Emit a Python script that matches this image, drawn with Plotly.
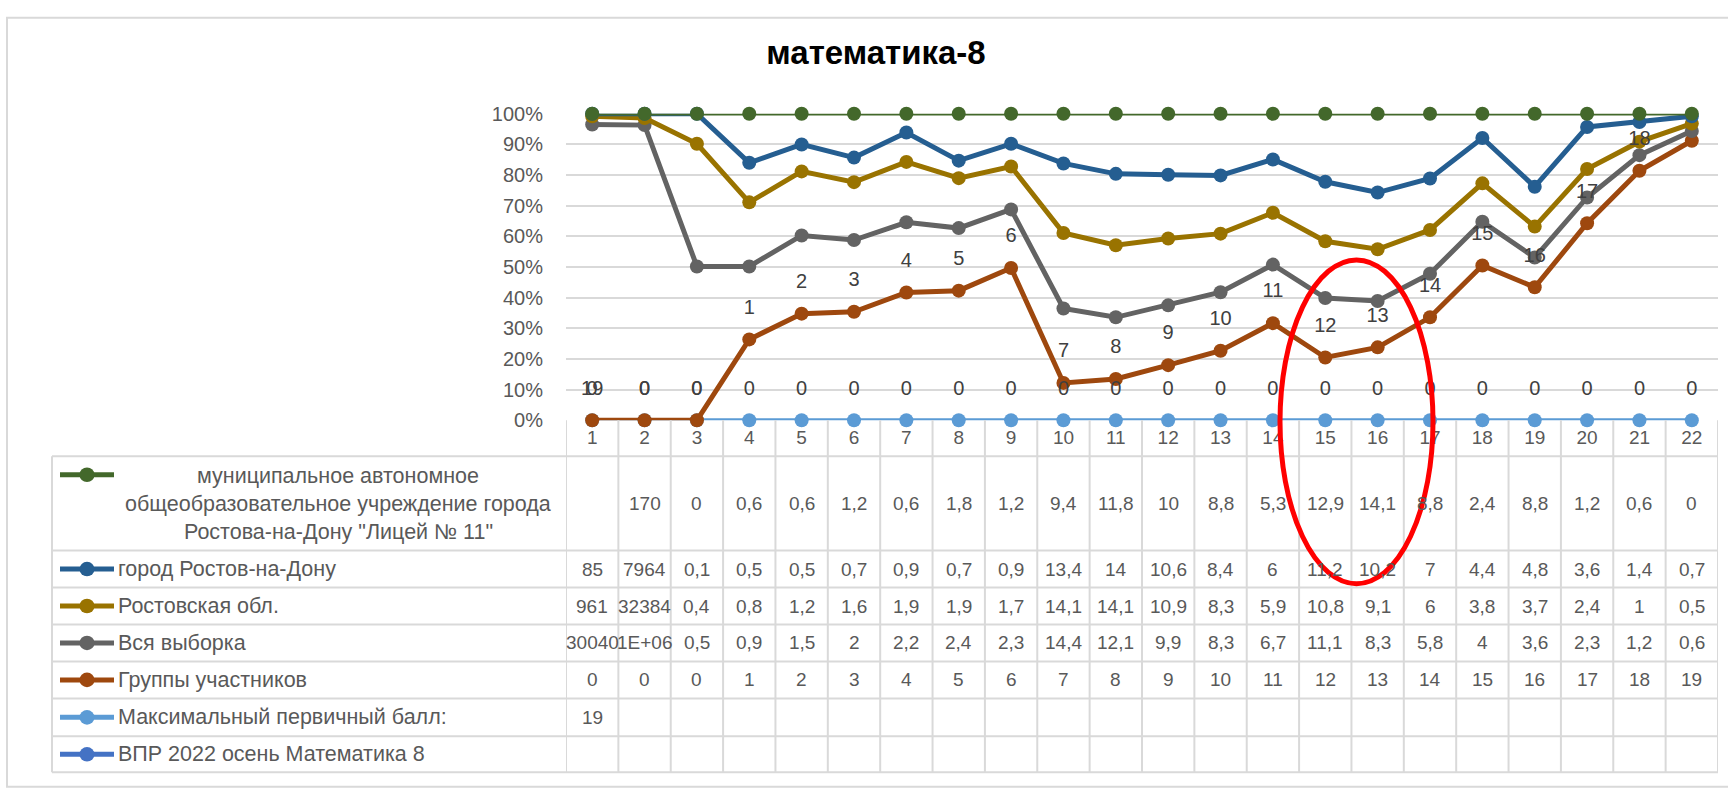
#!/bin/env python
"""
математика-8: line chart of result shares with an Excel-like data table below
"""
import plotly.graph_objects as go

WIDTH = 1728
HEIGHT = 793

# ---- data -------------------------------------------------------------
categories = list(range(1, 23))

school_pct = [100, 100, 100, 100, 100, 100, 100, 100, 100, 100, 100,
              100, 100, 100, 100, 100, 100, 100, 100, 100, 100, 100]
city_pct = [100, 100, 100, 84.0, 90.0, 85.7, 93.9, 84.7, 90.2, 83.8, 80.4,
            80.1, 79.9, 85.1, 77.8, 74.3, 78.9, 92.1, 76.2, 95.7, 97.3, 99.2]
region_pct = [99.2, 98.6, 90.2, 71.1, 81.2, 77.7, 84.3, 79.0, 82.8, 61.1, 57.1,
              59.3, 60.9, 67.7, 58.4, 55.8, 62.1, 77.3, 63.2, 82.0, 90.9, 96.8]
sample_pct = [96.5, 96.3, 50.2, 50.2, 60.3, 58.8, 64.6, 62.7, 68.8, 36.5, 33.6,
              37.5, 41.8, 50.8, 39.9, 38.9, 47.8, 64.8, 53.1, 72.7, 86.5, 94.4]
groups_pct = [0, 0, 0, 26.4, 34.8, 35.4, 41.7, 42.3, 49.7, 12.2, 13.5,
              18.0, 22.7, 31.7, 20.5, 23.8, 33.6, 50.5, 43.4, 64.3, 81.4, 91.2]
max_score_pct = [0, 0, 0, 0, 0, 0, 0, 0, 0, 0, 0,
                 0, 0, 0, 0, 0, 0, 0, 0, 0, 0, 0]

groups_labels = ["0", "0", "0", "1", "2", "3", "4", "5", "6", "7", "8",
                 "9", "10", "11", "12", "13", "14", "15", "16", "17", "18", "19"]
max_score_labels = ["19", "0", "0", "0", "0", "0", "0", "0", "0", "0", "0",
                    "0", "0", "0", "0", "0", "0", "0", "0", "0", "0", "0"]

y_ticks = [0, 10, 20, 30, 40, 50, 60, 70, 80, 90, 100]
y_tick_labels = ["0%", "10%", "20%", "30%", "40%", "50%", "60%", "70%", "80%", "90%", "100%"]

# data table rows (as printed in the table)
school_row = ["", "170", "0", "0,6", "0,6", "1,2", "0,6", "1,8", "1,2", "9,4", "11,8",
              "10", "8,8", "5,3", "12,9", "14,1", "8,8", "2,4", "8,8", "1,2", "0,6", "0"]
city_row = ["85", "7964", "0,1", "0,5", "0,5", "0,7", "0,9", "0,7", "0,9", "13,4", "14",
            "10,6", "8,4", "6", "11,2", "10,2", "7", "4,4", "4,8", "3,6", "1,4", "0,7"]
region_row = ["961", "32384", "0,4", "0,8", "1,2", "1,6", "1,9", "1,9", "1,7", "14,1", "14,1",
              "10,9", "8,3", "5,9", "10,8", "9,1", "6", "3,8", "3,7", "2,4", "1", "0,5"]
sample_row = ["30040", "1E+06", "0,5", "0,9", "1,5", "2", "2,2", "2,4", "2,3", "14,4", "12,1",
              "9,9", "8,3", "6,7", "11,1", "8,3", "5,8", "4", "3,6", "2,3", "1,2", "0,6"]
groups_row = ["0", "0", "0", "1", "2", "3", "4", "5", "6", "7", "8",
              "9", "10", "11", "12", "13", "14", "15", "16", "17", "18", "19"]
max_score_row = ["19", "", "", "", "", "", "", "", "", "", "",
                 "", "", "", "", "", "", "", "", "", "", ""]
vpr_row = ["", "", "", "", "", "", "", "", "", "", "",
           "", "", "", "", "", "", "", "", "", "", ""]

school_name_lines = [
    "муниципальное автономное",
    "общеобразовательное учреждение города",
    "Ростова-на-Дону \"Лицей № 11\"",
]
series_names = [
    "муниципальное автономное общеобразовательное учреждение города Ростова-на-Дону \"Лицей № 11\"",
    "город Ростов-на-Дону",
    "Ростовская обл.",
    "Вся выборка",
    "Группы участников",
    "Максимальный первичный балл:",
    "ВПР 2022 осень Математика 8",
]
series_colors = ["#43682b", "#255e91", "#997300", "#636363", "#9e480e", "#5b9bd5", "#4472c4"]

FONT = "Liberation Sans, Arial, sans-serif"
TEXT_GRAY = "#595959"
GRID = "#d9d9d9"


def px_x(px):
    return px / WIDTH


def px_y(px):
    return 1 - px / HEIGHT


# plot area in pixels
PLOT_LEFT, PLOT_RIGHT = 566, 1718
PLOT_TOP, PLOT_BOTTOM = 105.7, 421

figure = go.Figure()

# Excel draws the first series on top, so add them in reverse
line_series = [
    (series_names[5], max_score_pct, series_colors[5], 4),
    (series_names[4], groups_pct, series_colors[4], 5),
    (series_names[3], sample_pct, series_colors[3], 5),
    (series_names[2], region_pct, series_colors[2], 5),
    (series_names[1], city_pct, series_colors[1], 5),
    (series_names[0], school_pct, series_colors[0], 3.5),
]
for name, values, color, width in line_series:
    figure.add_trace(
        go.Scatter(
            x=categories,
            y=values,
            name=name,
            mode="lines+markers",
            line=dict(color=color, width=width),
            marker=dict(color=color, size=14),
            cliponaxis=False,
            showlegend=False,
            hoverinfo="skip",
        )
    )

# data labels sit one grid step above their points
for values, labels in ((max_score_pct, max_score_labels), (groups_pct, groups_labels)):
    figure.add_trace(
        go.Scatter(
            x=categories,
            y=[v + 10 for v in values],
            mode="text",
            text=labels,
            textposition="middle center",
            textfont=dict(family=FONT, size=20, color="#404040"),
            cliponaxis=False,
            showlegend=False,
            hoverinfo="skip",
        )
    )

shapes = list()
annotations = list()

# outer chart border
shapes.append(dict(type="rect", xref="paper", yref="paper",
                   x0=px_x(7), x1=px_x(WIDTH + 5), y0=px_y(HEIGHT + 5), y1=px_y(7),
                   line=dict(color=GRID, width=2)))

# data table
TABLE_LEFT = 52
row_edges = [458, 555, 593, 631, 669, 707, 746, 783]
table_rows = [school_row, city_row, region_row, sample_row, groups_row, max_score_row, vpr_row]

for edge in row_edges:
    shapes.append(dict(type="line", xref="paper", yref="paper",
                       x0=px_x(TABLE_LEFT), x1=px_x(PLOT_RIGHT), y0=px_y(edge), y1=px_y(edge),
                       line=dict(color=GRID, width=2)))
shapes.append(dict(type="line", xref="paper", yref="paper",
                   x0=px_x(TABLE_LEFT), x1=px_x(TABLE_LEFT),
                   y0=px_y(row_edges[0]), y1=px_y(row_edges[-1]),
                   line=dict(color=GRID, width=2)))
for boundary in [c - 0.5 for c in categories] + [categories[-1] + 0.5]:
    shapes.append(dict(type="line", xref="x", yref="paper",
                       x0=boundary, x1=boundary, y0=px_y(PLOT_BOTTOM), y1=px_y(row_edges[-1]),
                       line=dict(color=GRID, width=2)))

for index, row in enumerate(table_rows):
    center = (row_edges[index] + row_edges[index + 1]) / 2
    for category, value in zip(categories, row):
        if value == "":
            continue
        annotations.append(dict(x=category, y=px_y(center), xref="x", yref="paper",
                                text=value, showarrow=False, xanchor="center", yanchor="middle",
                                font=dict(family=FONT, size=19, color=TEXT_GRAY)))

    if index == 0:
        icon_y = 477
        for line_index, line_text in enumerate(school_name_lines):
            annotations.append(dict(x=px_x(338), y=px_y(478 + 29 * line_index),
                                    xref="paper", yref="paper", text=line_text,
                                    showarrow=False, xanchor="center", yanchor="middle",
                                    font=dict(family=FONT, size=21.5, color=TEXT_GRAY)))
    else:
        icon_y = center
        annotations.append(dict(x=px_x(116), y=px_y(center), xref="paper", yref="paper",
                                text=series_names[index], showarrow=False,
                                xanchor="left", yanchor="middle",
                                font=dict(family=FONT, size=21.5, color=TEXT_GRAY)))

    # legend key: short line with a marker
    color = series_colors[index]
    shapes.append(dict(type="line", xref="paper", yref="paper",
                       x0=px_x(60), x1=px_x(114), y0=px_y(icon_y), y1=px_y(icon_y),
                       line=dict(color=color, width=5)))
    shapes.append(dict(type="circle", xref="paper", yref="paper",
                       x0=px_x(79.5), x1=px_x(94.5), y0=px_y(icon_y + 7.5), y1=px_y(icon_y - 7.5),
                       fillcolor=color, line=dict(color=color, width=0)))

# red highlight ellipse drawn over the chart
shapes.append(dict(type="circle", xref="paper", yref="paper",
                   x0=px_x(1280), x1=px_x(1433), y0=px_y(589), y1=px_y(256),
                   line=dict(color="#ff0000", width=5)))

figure.update_layout(
    width=WIDTH,
    height=HEIGHT,
    margin=dict(l=0, r=0, t=0, b=0),
    paper_bgcolor="white",
    plot_bgcolor="white",
    font=dict(family=FONT, color=TEXT_GRAY),
    title=dict(text="<b>математика-8</b>", x=px_x(876), y=px_y(52),
               xanchor="center", yanchor="middle",
               font=dict(family=FONT, size=33, color="black")),
    xaxis=dict(
        domain=[px_x(PLOT_LEFT), px_x(PLOT_RIGHT)],
        range=[0.5, 22.5],
        tickvals=categories,
        ticktext=[str(c) for c in categories],
        showgrid=False,
        zeroline=False,
        showline=False,
        ticks="",
        ticklabelstandoff=4,
        tickfont=dict(family=FONT, size=19, color=TEXT_GRAY),
        fixedrange=True,
    ),
    yaxis=dict(
        domain=[px_y(PLOT_BOTTOM), px_y(PLOT_TOP)],
        range=[0, 100],
        tickvals=y_ticks,
        ticktext=y_tick_labels,
        showgrid=True,
        gridcolor=GRID,
        gridwidth=2,
        zeroline=False,
        showline=False,
        ticks="",
        ticklabelstandoff=22,
        tickfont=dict(family=FONT, size=20, color=TEXT_GRAY),
        fixedrange=True,
    ),
    shapes=shapes,
    annotations=annotations,
    hovermode=False,
)

figure.write_html(
    "out.html",
    config={"displayModeBar": False},
    post_script="document.body.style.margin='0';document.body.style.overflow='hidden';",
)
